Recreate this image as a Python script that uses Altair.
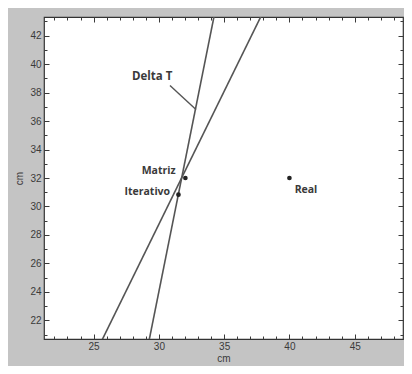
import altair as alt
import pandas as pd

# Domain of the plot
x_domain = [21.2, 48.7]
y_domain = [20.7, 43.3]

# Tick values
x_major = [25, 30, 35, 40, 45]
x_minor = list(range(22, 49))
y_major = [22, 24, 26, 28, 30, 32, 34, 36, 38, 40, 42]
y_minor = list(range(21, 44))

# Two straight lines (endpoints, clipped to the frame)
line_a_x = [29.12, 34.37]
line_a_y = [20.0, 44.0]
line_b_x = [25.31, 38.17]
line_b_y = [20.0, 44.0]

# Solutions
point_names = ["Matriz", "Iterativo", "Real"]
point_x = [32.03, 31.5, 40.0]
point_y = [32.0, 30.83, 32.0]

# Annotation labels
label_text = ["Matriz", "Iterativo"]
label_x = [31.28, 30.86]
label_y = [32.49, 31.02]
real_label_x = [40.40]
real_label_y = [31.13]
delta_text = ["Delta T"]
delta_x = [27.94]
delta_y = [39.08]
leader_x = [30.85, 32.84]
leader_y = [38.5, 36.8]

FONT = "Open Sans"
AXFONT = "Liberation Sans"
GRAY = "#c4c4c4"
INK = "#3a3a3a"

xs = alt.Scale(domain=x_domain, nice=False, zero=False)
ys = alt.Scale(domain=y_domain, nice=False, zero=False)

lines_df = pd.DataFrame({
    "x": line_a_x + line_b_x,
    "y": line_a_y + line_b_y,
    "line": ["A", "A", "B", "B"],
})
pts_df = pd.DataFrame({"name": point_names, "x": point_x, "y": point_y})
lab_df = pd.DataFrame({"t": label_text, "x": label_x, "y": label_y})
real_df = pd.DataFrame({"t": ["Real"], "x": real_label_x, "y": real_label_y})
delta_df = pd.DataFrame({"t": delta_text, "x": delta_x, "y": delta_y})
leader_df = pd.DataFrame({"x": leader_x, "y": leader_y})


def axis_layer(x_axis, y_axis):
    return alt.Chart(pts_df).mark_point(opacity=0).encode(
        x=alt.X("x:Q", scale=xs, axis=x_axis),
        y=alt.Y("y:Q", scale=ys, axis=y_axis),
    )


common = dict(domain=False, grid=False, tickColor=INK, tickWidth=1)

ax1 = axis_layer(
    alt.Axis(orient="bottom", values=x_major, title="cm", offset=-5, tickSize=5,
             labelPadding=2, labelFont=AXFONT, labelFontSize=10, labelColor=INK,
             titleFont=AXFONT, titleFontSize=10, titleFontWeight="normal",
             titleColor=INK, titlePadding=2, **common),
    alt.Axis(orient="left", values=y_major, title="cm", offset=-5, tickSize=5,
             labelPadding=3, labelFont=AXFONT, labelFontSize=10, labelColor=INK,
             titleFont=AXFONT, titleFontSize=10, titleFontWeight="normal",
             titleColor=INK, titlePadding=5, **common),
)
ax2 = axis_layer(
    alt.Axis(orient="bottom", values=x_minor, labels=False, title=None,
             offset=-3, tickSize=3, **common),
    alt.Axis(orient="left", values=y_minor, labels=False, title=None,
             offset=-3, tickSize=3, **common),
)
ax3 = axis_layer(
    alt.Axis(orient="top", values=x_minor, labels=False, title=None,
             offset=-3, tickSize=3, **common),
    alt.Axis(orient="right", values=y_minor, labels=False, title=None,
             offset=-3, tickSize=3, **common),
)
ax4 = axis_layer(
    alt.Axis(orient="top", values=x_major, labels=False, title=None,
             offset=-5, tickSize=5, **common),
    alt.Axis(orient="right", values=y_major, labels=False, title=None,
             offset=-5, tickSize=5, **common),
)

lines = alt.Chart(lines_df).mark_line(color="#555555", strokeWidth=1.6, clip=True).encode(
    x=alt.X("x:Q", scale=xs, axis=None),
    y=alt.Y("y:Q", scale=ys, axis=None),
    detail="line:N",
)
leader = alt.Chart(leader_df).mark_line(color="#555555", strokeWidth=1.4).encode(
    x=alt.X("x:Q", scale=xs, axis=None),
    y=alt.Y("y:Q", scale=ys, axis=None),
)
points = alt.Chart(pts_df).mark_point(filled=True, shape="circle", size=22,
                                      color="#222222", opacity=1).encode(
    x=alt.X("x:Q", scale=xs, axis=None),
    y=alt.Y("y:Q", scale=ys, axis=None),
)
labels = alt.Chart(lab_df).mark_text(align="right", baseline="middle", font=FONT,
                                     fontSize=10.5, fontWeight="bold", color=INK).encode(
    x=alt.X("x:Q", scale=xs, axis=None),
    y=alt.Y("y:Q", scale=ys, axis=None),
    text="t:N",
)
real_lab = alt.Chart(real_df).mark_text(align="left", baseline="middle", font=FONT,
                                        fontSize=10.5, fontWeight="bold", color=INK).encode(
    x=alt.X("x:Q", scale=xs, axis=None),
    y=alt.Y("y:Q", scale=ys, axis=None),
    text="t:N",
)
delta_lab = alt.Chart(delta_df).mark_text(align="left", baseline="middle", font=FONT,
                                          fontSize=11.5, fontWeight="bold", color=INK).encode(
    x=alt.X("x:Q", scale=xs, axis=None),
    y=alt.Y("y:Q", scale=ys, axis=None),
    text="t:N",
)

chart = alt.layer(
    ax1, ax2, ax3, ax4, lines, leader, points, labels, real_lab, delta_lab
).resolve_axis(x="independent", y="independent").properties(
    width=359,
    height=322,
    background=GRAY,
    autosize=alt.AutoSizeParams(type="none"),
    padding={"left": 36, "top": 9, "right": 1, "bottom": 27},
).configure_view(
    fill="white", stroke="#333333", strokeWidth=1.2
)

chart.save("out.html", embed_options={"renderer": "svg", "actions": False})
